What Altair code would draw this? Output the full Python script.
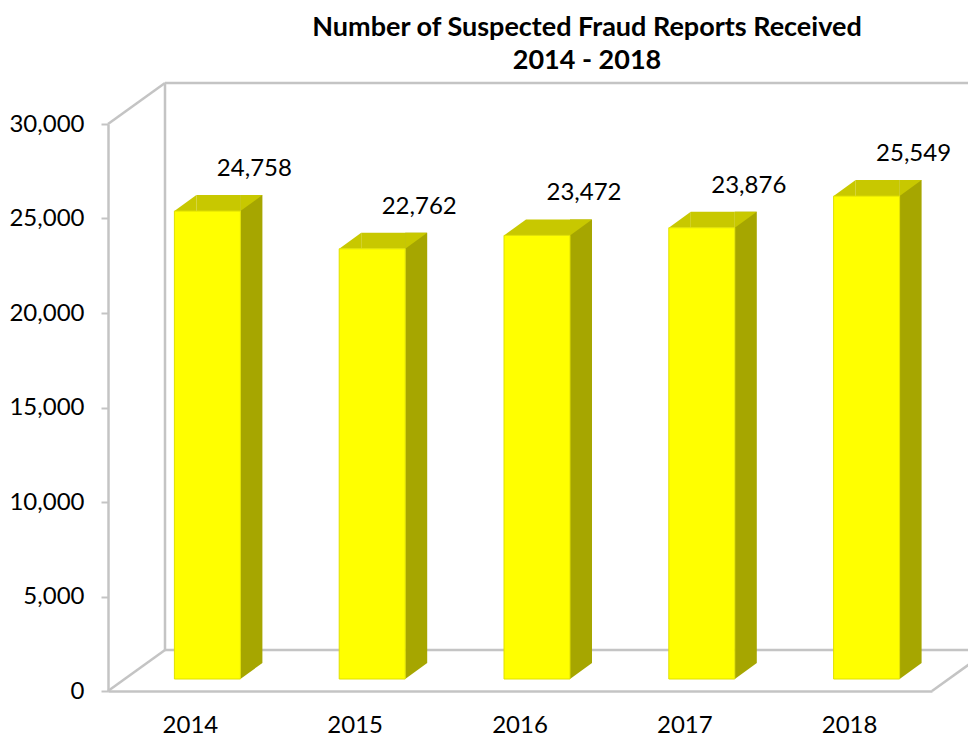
import altair as alt
import pandas as pd

# ---- data ----
years = ["2014", "2015", "2016", "2017", "2018"]
reports = [24758, 22762, 23472, 23876, 25549]
y_ticks = [0, 5000, 10000, 15000, 20000, 25000, 30000]
title_lines = ["Number of Suspected Fraud Reports Received", "2014 - 2018"]

df = pd.DataFrame({"year": years, "reports": reports})
one = pd.DataFrame({"k": [0]})

# ---- style ----
W, H = 824, 567
FONT = "Lato"
FRONT = "#ffff00"
TOP = "#c8c800"
SIDE = "#a6a600"
FRAME = "#c4c4c4"
DX, DY = 57, -41          # depth of the floor / walls (px)
BDY = -12                 # bars sit at mid depth
BX = 17                   # horizontal shift of bars for that depth
BW = 66                   # front face width
SDX, SDY = 22, -16        # bar depth
YMAX = 30000

xenc = alt.X(
    "year:N",
    sort=years,
    scale=alt.Scale(paddingInner=0, paddingOuter=0),
    axis=alt.Axis(
        title=None, labelAngle=0, labelFont=FONT, labelFontSize=24,
        labelColor="black", labelPadding=22, ticks=False, grid=False,
        domainColor=FRAME, domainWidth=2.5,
    ),
)
yscale = alt.Scale(domain=[0, YMAX], nice=False)
yaxis = alt.Axis(
    title=None, values=y_ticks, format=",", labelExpr="format(datum.value, ',')",
    grid=False, labelFont=FONT, labelFontSize=24, labelColor="black",
    labelPadding=17, tickSize=7, tickColor=FRAME, tickWidth=2,
    domainColor=FRAME, domainWidth=2.5,
)
yenc = alt.Y("reports:Q", scale=yscale, axis=yaxis)


def yd(v):
    return alt.Y(datum=v, scale=yscale, axis=yaxis)


def y2d(v):
    return alt.Y2(datum=v)


base = alt.Chart(df)
frame = alt.Chart(one)

# ---- frame (walls and floor) ----
fr = dict(color=FRAME, strokeWidth=2.5)
back_top = frame.mark_rule(yOffset=DY, **fr).encode(
    x=alt.value(DX), x2=alt.value(W + DX), y=yd(YMAX))
back_left = frame.mark_rule(yOffset=DY, y2Offset=DY, **fr).encode(
    x=alt.value(DX), y=yd(YMAX), y2=y2d(0))
floor_back = frame.mark_rule(yOffset=DY, **fr).encode(
    x=alt.value(DX), x2=alt.value(W + DX), y=yd(0))
diag_tl = frame.mark_rule(y2Offset=DY, **fr).encode(
    x=alt.value(0), x2=alt.value(DX), y=yd(YMAX), y2=y2d(YMAX))
diag_bl = frame.mark_rule(y2Offset=DY, **fr).encode(
    x=alt.value(0), x2=alt.value(DX), y=yd(0), y2=y2d(0))
diag_br = frame.mark_rule(y2Offset=DY, **fr).encode(
    x=alt.value(W), x2=alt.value(W + DX), y=yd(0), y2=y2d(0))

# ---- 3D bars ----
L = BX - BW / 2
R = BX + BW / 2
side = base.mark_rule(
    strokeWidth=SDX, strokeCap="butt", color=SIDE,
    xOffset=R + SDX / 2, yOffset=BDY + SDY, y2Offset=BDY + SDY,
).encode(x=xenc, y=yenc, y2=y2d(0))
top = base.mark_rule(
    strokeWidth=BW - SDX, strokeCap="butt", color=TOP,
    xOffset=(L + SDX + R) / 2, yOffset=BDY + SDY, y2Offset=BDY,
).encode(x=xenc, y=yenc, y2="reports:Q")

k = -SDY / SDX
size = (2 * SDX) ** 2
tri_tl = base.mark_point(
    shape=f"M0,0 L1,{-k:.4f} L1,0 Z", size=size, filled=True, opacity=1,
    strokeWidth=0, color=TOP, xOffset=L, yOffset=BDY,
).encode(x=xenc, y=yenc)
tri_tr = base.mark_point(
    shape=f"M0,0 L0,{-k:.4f} L1,{-k:.4f} Z", size=size, filled=True, opacity=1,
    strokeWidth=0, color=TOP, xOffset=R, yOffset=BDY,
).encode(x=xenc, y=yenc)
tri_br = base.mark_point(
    shape=f"M0,0 L1,{-k:.4f} L0,{-k:.4f} Z", size=size, filled=True, opacity=1,
    strokeWidth=0, color=SIDE, xOffset=R, yOffset=BDY,
).encode(x=xenc, y=yd(0))

front = base.mark_bar(
    width=BW, color=FRONT, stroke="#e0e000", strokeWidth=1,
    xOffset=BX, yOffset=BDY, y2Offset=BDY,
).encode(x=xenc, y=yenc, y2=y2d(0))

labels = base.mark_text(
    font=FONT, fontSize=24, color="black", align="center", baseline="middle",
    dx=BX + 47, dy=BDY - 42,
).encode(x=xenc, y=yenc, text=alt.Text("reports:Q", format=","))

chart = alt.layer(
    back_top, back_left, floor_back, diag_tl, diag_bl, diag_br,
    side, top, tri_tl, tri_tr, tri_br, front, labels,
).properties(
    width=W,
    height=H,
    background="white",
    padding={"left": 100, "top": 116, "right": 36, "bottom": 47},
    autosize=alt.AutoSizeParams(type="none"),
    title=alt.TitleParams(
        title_lines, font=FONT, fontSize=27, fontWeight="bold", color="black",
        anchor="middle", dx=67, offset=7, lineHeight=33,
    ),
).configure_view(strokeWidth=0, strokeOpacity=0)

chart.save("out.html", embed_options={"renderer": "svg", "actions": False})
